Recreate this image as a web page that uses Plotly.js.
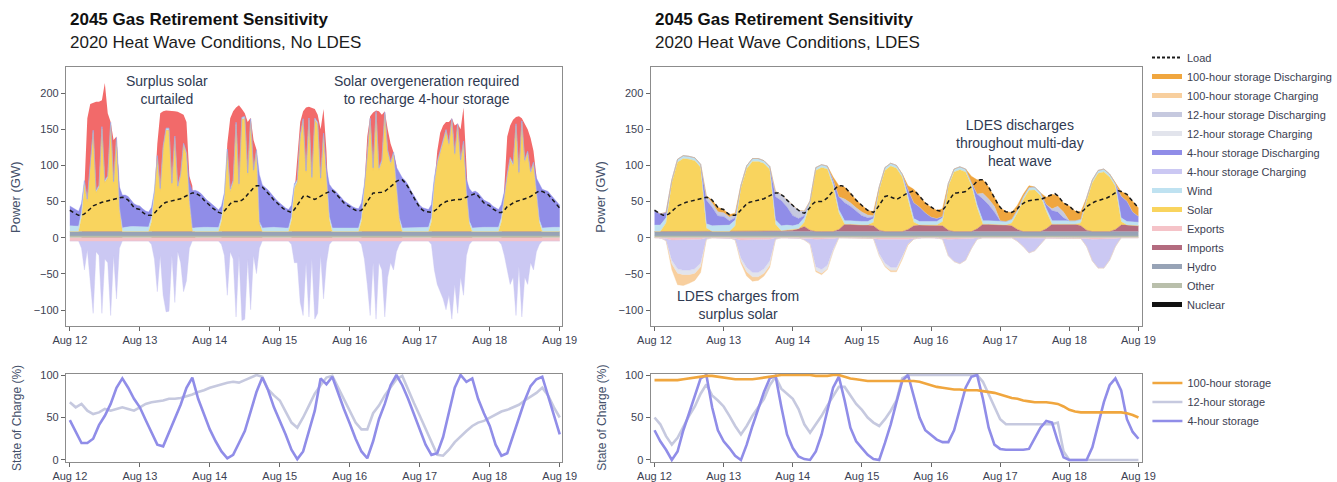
<!DOCTYPE html>
<html><head><meta charset="utf-8">
<script src="https://cdn.plot.ly/plotly-3.0.1.min.js"></script>
<style>html,body{margin:0;padding:0;background:#fff;}#chart{width:1337px;height:482px;}</style>
</head><body><div id="chart"></div>
<script>
// ---------------- DATA ----------------
// time base: hourly / two-hourly / daily samples starting 2020-08-12 00:00 (GW or %)
const startTime = '2020-08-12 00:00';
const dayTicks = ['Aug 12','Aug 13','Aug 14','Aug 15','Aug 16','Aug 17','Aug 18','Aug 19'];

// Load (GW), hourly, shared by both scenarios
const loadGW = [
 38,35,33,31,31,33,36,40,44,46,48,49,50,51,52,53,54,55,56,55,52,47,42,40,
 39,35,32,31,31,34,38,43,47,49,50,51,51,52,54,56,58,61,62,62,60,57,52,48,
 45,41,38,35,34,37,42,47,50,50,50,52,55,60,65,69,72,72,70,66,62,57,52,48,
 45,41,38,36,35,39,45,51,57,58,56,54,53,55,58,60,62,64,65,62,58,53,48,45,
 42,40,38,37,38,43,50,57,62,62,62,63,64,67,70,74,78,80,80,76,70,62,55,48,
 42,38,36,35,35,37,40,45,48,50,51,52,52,53,53,54,56,58,60,61,58,53,48,46,
 44,40,37,35,35,38,43,46,48,50,51,52,53,55,57,60,63,65,64,62,60,55,50,45,
 41];

// daily (constant) base layers
const otherGW = [2.5,2.5,2.5,2.5,2.5,2.5,2.5,2.5];
const hydroGW = [6,6,6,6,6,6,6,6];
const exportsNoLdes = [-4.5,-4.5,-4.5,-4.5,-4.5,-4.5,-4.5,-4.5];

// ---- No LDES scenario (hourly) ----
const solarNoLdes = [
 0,0,0,0,20,65,41,93,137,54,61,142,68,74,148,66,127,30,0,0,0,0,0,0,
 0,0,0,0,13.5,51.5,101,56,115,140,140,64,129,60,77,119,106,39,0,0,0,0,0,0,
 0,0,0,0,14.5,46.5,110,55,68,148,63,155,156,78,153,82,110,10,0,0,0,0,0,0,
 0,0,0,0,15.5,59.5,68,129,153,81,154,72,154,148,71,133,75,16.5,0,0,0,0,0,0,
 0,0,0,0,14.5,56.5,103,153,85,163,85,96,162,110,93,107,66,15,0,0,0,0,0,0,
 0,0,0,0,13.5,65.5,93,108,121,138,119,153,105,146,96,122,54,10.5,0,0,0,0,0,0,
 0,0,0,0,13.5,46.5,76,99,91,146,79,150,96,108,80,93,56,12.5,0,0,0,0,0,0,
 0];
const dis4NoLdes = [
 27.5,24.5,22.5,20.5,12,0,0,0,0,0,0,0,0,0,0,0,0,28,45.5,44.5,41.5,36.5,31.5,29.5,
 28.5,24.5,21.5,20.5,14,0,0,0,0,0,0,0,0,0,0,0,0,25,51.5,51.5,49.5,46.5,41.5,37.5,
 34.5,30.5,27.5,24.5,16,3,0,0,0,0,0,0,0,0,0,0,0,65,59.5,55.5,51.5,46.5,41.5,37.5,
 34.5,30.5,27.5,25.5,16,2,0,0,0,0,0,0,0,0,0,0,10,45,54.5,51.5,47.5,42.5,37.5,34.5,
 31.5,29.5,27.5,26.5,20,4,0,0,0,0,0,0,0,0,0,0,20,63,69.5,65.5,59.5,51.5,44.5,37.5,
 31.5,27.5,25.5,24.5,18,4,0,0,0,0,0,0,0,0,0,0,15,45,49.5,50.5,47.5,42.5,37.5,35.5,
 33.5,29.5,26.5,24.5,18,4,0,0,0,0,0,0,0,0,0,0,15,50,53.5,51.5,49.5,44.5,39.5,34.5,
 30.5];
const ch4NoLdes = [
 0,0,0,0,-10,-40,-12,-60,-100,-15,-20,-100,-25,-30,-103,-20,-80,-10,0,0,0,0,0,0,
 0,0,0,0,-5,-25,-70,-20,-75,-98,-97,-20,-85,-15,-30,-70,-55,-10,0,0,0,0,0,0,
 0,0,0,0,-5,-20,-75,-15,-25,-105,-20,-110,-108,-25,-95,-20,-45,-10,0,0,0,0,0,0,
 0,0,0,0,-5,-30,-30,-85,-103,-30,-105,-25,-108,-100,-20,-80,-30,-5,0,0,0,0,0,0,
 0,0,0,0,-5,-25,-60,-103,-30,-108,-30,-40,-105,-50,-30,-40,-15,-5,0,0,0,0,0,0,
 0,0,0,0,-5,-40,-60,-70,-80,-95,-75,-108,-60,-100,-50,-75,-20,-5,0,0,0,0,0,0,
 0,0,0,0,-5,-20,-40,-60,-50,-103,-35,-105,-50,-60,-30,-40,-15,-5,0,0,0,0,0,0,
 0];
// upper edge of the curtailed-solar area (GW)
const curtailTopNoLdes = [
 0,0,0,0,0,70,165,185,187,188,188,190,214,172,160,135,140,60,0,0,0,0,0,0,
 0,0,0,0,0,60,130,172,175,176,176,175,175,174,172,170,160,85,72,0,0,0,0,0,
 0,0,0,0,0,50,130,165,175,180,183,178,172,160,166,135,122,40,0,0,0,0,0,0,
 0,0,0,0,0,60,110,160,175,180,181,180,178,170,150,178,120,20,0,0,0,0,0,0,
 0,0,0,0,0,70,140,168,173,176,175,170,175,150,130,118,100,30,0,0,0,0,0,0,
 0,0,0,0,0,75,120,145,155,160,160,165,155,158,150,180,100,20,0,0,0,0,0,0,
 0,0,0,0,0,70,140,155,163,167,168,165,158,150,138,120,85,20,0,0,0,0,0,0,
 0];
// two-hourly
const windNoLdes = [
 8,8,7,4,3,3,3,3,3,5,7,7, 7,7,6,4,3,3,3,3,3,5,6,6, 6,6,5,4,3,3,3,3,3,5,6,6,
 5,5,5,4,3,3,3,3,3,5,5,5, 5,5,5,4,3,3,3,3,3,5,5,5, 5,6,6,4,3,3,3,3,3,5,6,6,
 6,6,6,4,3,3,3,3,3,5,6,6, 6];

// ---- LDES scenario (two-hourly) ----
const importsLdes = [
 0,0,0,0,0,0,0,0,0,0,0,0, 0,0,0,0,0,0,0,0,0,0,1,2, 2,4,7,2,0,0,0,0,3,10,10,9,
 9,9,8,2,0,0,0,0,3,8,9,9, 9,9,8,2,0,0,0,0,4,10,10,10, 9,9,8,3,0,0,0,0,4,10,10,10,
 10,10,8,2,0,0,0,0,3,9,9,8, 8];
const windLdes = [
 9,9,7,4,4,4,4,4,4,6,8,8, 9,9,8,4,4,4,4,4,4,6,7,7, 6,6,6,4,4,4,4,4,4,5,5,5,
 5,5,5,4,4,4,4,4,4,5,5,5, 5,5,5,4,4,4,4,4,4,5,5,5, 5,5,5,4,4,4,4,4,4,5,5,5,
 5,5,5,4,4,4,4,4,4,5,5,5, 5];
const solarLdes = [
 0,0,12,67,96,101,100,98,89,5,0,0, 0,0,8,60,87,97,97,94,86,10,0,0,
 0,0,6,36.5,84.5,88.5,86.5,63,23,0,0,0, 0,0,5,55.5,84.5,90.5,87.5,75.5,43,5,0,0,
 0,0,6,60.5,82.5,85.5,82.5,64,29,0,0,0, 0,0,4,23,44,57,57.5,49.5,24,0,0,0,
 0,0,4,40.5,67.5,80.5,82.5,75.5,59.5,5,0,0, 0];
const dis4Ldes = [
 20.5,15.5,7.5,0,0,0,0,0,0,32.5,25.5,13.5, 12,6,3,0,0,0,0,0,0,32,35,25,
 14,8,3,0,0,0,0,4.5,18,25,20,14, 8,5,2,0,0,0,0,0,8,22,20,12,
 6,4,2,0,0,0,0,0,15,30,22,12, 1,0,0,0,0,0,0,0,5.5,14,12,4,
 0,0,0,0,0,0,0,0,0,30,28,14, 8];
const dis12Ldes = [
 0,0,0,0,0,0,0,0,0,6,6,6, 5,5,4,0,0,0,0,0,0,7.5,8.5,9.5,
 14.5,11.5,6.5,0,0,0,0,0,0,5,5,5, 5,4,2,0,0,0,0,0,0,0,0,0,
 0,0,0,0,0,0,0,0,0,8,8,8, 0,0,0,0,0,0,0,0,0,2.5,8,8,
 0,0,0,0,0,0,0,0,0,0,0,0, 0];
const dis100Ldes = [
 0,0,0,0,0,0,0,0,0,0,4,6, 4.5,3.5,2.5,0,0,0,0,0,0,0,0,0,
 0,0,0,0,0,0,0,4,15.5,16.5,13.5,10.5, 9.5,6.5,5.5,0,0,0,0,0,5.5,18.5,15.5,13.5,
 13.5,11.5,10.5,0,0,0,0,8.5,19.5,18.5,16.5,11.5, 18.5,13.5,9.5,6.5,3.5,2.5,0,0,10,20,14.5,12.5,
 20.5,13.5,10.5,0,0,0,0,0,0,6.5,9.5,14.5, 11.5];
const exportsLdes = [
 0,0,-1,-3,-3,-3,-3,-3,-2,0,0,0, 0,0,-1,-3,-3,-3,-3,-3,-2,0,0,0,
 0,0,-1,-1,-2,-2,-2,-1,0,0,0,0, 0,0,-1,-2,-2,-3,-3,-3,-2,-1,0,0,
 0,0,-1,-2,-2,-2,-2,-1,0,0,0,0, 0,0,0,-1,-1,-1,-1,-1,0,0,0,0,
 0,0,-1,-1,-2,-2,-2,-1,-1,0,0,0, 0];
const ch4Ldes = [
 0,0,-3,-28,-40,-42,-42,-40,-33,-2,0,0, 0,0,-2,-25,-38,-45,-45,-40,-30,-2,0,0,
 0,0,-2,-7,-38,-42,-36,-15,0,0,0,0, 0,0,0,-20,-33,-38,-38,-23,-7,-1,0,0,
 0,0,-1,-23,-31,-34,-29,-14,-2,0,0,0, 0,0,0,-4,-11,-20,-17,-8,0,0,0,0,
 0,0,0,-11,-30,-40,-40,-30,-11,0,0,0, 0];
const ch12Ldes = [
 0,0,0,-5,-6,-6,-6,-6,-5,0,0,0, 0,0,0,-4,-6,-6,-6,-6,-6,0,0,0,
 0,0,0,-1,-5,-5,-5,-3,0,0,0,0, 0,0,0,-3,-4,-4,-4,-2,0,0,0,0,
 0,0,0,0,0,0,0,0,0,0,0,0, 0,0,0,0,0,0,0,0,0,0,0,0,
 0,0,0,0,0,0,0,0,0,0,0,0, 0];
const ch100Ldes = [
 0,0,0,-8,-16,-15,-12,-10,-8,0,0,0, 0,0,0,-3,-6,-6,-5,-4,-3,0,0,0,
 0,0,0,0,-2,-2,-1,0,0,0,0,0, 0,0,0,0,-1,-2,-2,-2,-1,0,0,0,
 0,0,0,0,0,0,0,0,0,0,0,0, 0,0,0,0,0,0,0,0,0,0,0,0,
 0,0,0,0,0,0,0,0,0,0,0,0, 0];

// ---- State of charge (%), two-hourly ----
const soc4NoLdes = [
 47,33,20,20,25,41,52,66,85,96,85,72, 62,47,32,18,16,32,47,65,85,97,72,53,
 36,22,10,2,6,20,34,57,80,97,82,62, 47,30,12,1,10,33,58,96,89,98,78,60,
 43,25,10,2,22,48,66,88,100,88,72,54, 36,18,6,8,27,58,85,100,92,96,72,55,
 40,18,5,8,28,48,70,87,95,98,75,55, 30];
const soc12NoLdes = [
 68,62,66,58,54,56,60,58,60,62,60,58, 62,66,68,69,70,72,72,73,75,77,80,82,
 85,87,89,91,92,91,94,97,100,98,83,76, 70,57,44,38,50,64,78,88,97,99,85,72,
 58,44,36,36,55,64,76,86,95,99,82,67, 52,37,22,6,5,12,21,28,34,40,44,46,
 50,54,57,59,62,65,70,74,79,85,76,62, 50];
const soc100Ldes = [
 94,94,94,94,94,95,96,97,98,99,99,98, 97,96,95,95,95,95,96,97,98,99,100,100,
 100,100,100,100,99,99,99,100,100,98,96,95, 94,93,93,93,93,93,93,93,93,93,92,90,
 88,86,85,84,83,83,82,82,82,81,80,79, 77,75,73,72,70,69,68,68,68,67,66,63,
 59,57,56,56,56,56,56,56,56,56,55,53, 50];
const soc12Ldes = [
 50,42,28,18,26,40,52,63,78,89,76,70, 63,52,40,30,40,52,62,72,88,98,84,78,
 72,60,42,32,42,52,64,75,86,86,76,66, 59,50,44,40,48,58,70,96,100,100,100,100,
 100,100,100,100,100,100,100,100,100,92,78,62, 48,42,42,42,42,42,42,42,42,42,44,10,
 0,0,0,0,0,0,0,0,0,0,0,0, 0];
const soc4Ldes = [
 35,22,12,0,10,35,55,77,96,100,62,35, 22,14,5,0,18,40,60,80,96,99,63,30,
 14,4,1,0,10,30,58,85,98,70,38,22, 14,6,1,0,20,42,68,93,100,75,50,35,
 29,24,21,21,35,60,85,98,100,72,38,18, 13,12,12,12,12,13,25,38,46,44,22,3,
 0,0,0,0,15,42,68,88,96,82,48,33, 25];

const powerTicks = [-100,-50,0,50,100,150,200];
const socTicks = [0,50,100];
const legendNames = ['Load','100-hour storage Discharging','100-hour storage Charging',
 '12-hour storage Discharging','12-hour storage Charging','4-hour storage Discharging',
 '4-hour storage Charging','Wind','Solar','Exports','Imports','Hydro','Other','Nuclear'];

// ---------------- STYLE ----------------
const COL = {
  load:'#1a1a1a', dis100:'#f0a63e', ch100:'#f8cf9e', dis12:'#c6c9df', ch12:'#e2e4ec',
  dis4:'#908de8', ch4:'#cbc8f3', wind:'#bfe2f1', solar:'#f9d45e', exports:'#f5c3c8',
  imports:'#b36b7f', hydro:'#97a3b6', other:'#b9bfab', nuclear:'#111111', curtail:'#f26a6a'
};
const FONT = 'Liberation Sans, Arial, Helvetica, sans-serif';
const H1 = 3600000, H2 = 7200000, D1 = 86400000;

function area(name, y, color, group, xa, ya, dx) {
  return {type:'scatter', mode:'lines', name:name, x0:startTime, dx:dx, y:y,
    stackgroup:group, stackgaps:'interpolate',
    line:{width:0.4, color:color}, fillcolor:color,
    xaxis:xa, yaxis:ya, showlegend:false, hoverinfo:'skip'};
}
function loadLine(xa, ya) {
  return {type:'scatter', mode:'lines', name:'Load', x0:startTime, dx:H1, y:loadGW,
    line:{color:COL.load, width:1.5, dash:'4px,3px'}, xaxis:xa, yaxis:ya, showlegend:false, hoverinfo:'skip'};
}

const traces = [];
// ---- top-left: No LDES ----
traces.push({type:'scatter', mode:'lines', name:'Curtailed', x0:startTime, dx:H1, y:curtailTopNoLdes,
  fill:'tozeroy', fillcolor:COL.curtail, line:{width:0, color:COL.curtail}, xaxis:'x', yaxis:'y', showlegend:false, hoverinfo:'skip'});
traces.push(area('Other', otherGW, COL.other, 'posL', 'x', 'y', D1));
traces.push(area('Hydro', hydroGW, COL.hydro, 'posL', 'x', 'y', D1));
traces.push(area('Solar', solarNoLdes, COL.solar, 'posL', 'x', 'y', H1));
traces.push(area('Wind', windNoLdes, COL.wind, 'posL', 'x', 'y', H2));
traces.push(area('4-hour storage Discharging', dis4NoLdes, COL.dis4, 'posL', 'x', 'y', H1));
traces.push(area('Exports', exportsNoLdes, COL.exports, 'negL', 'x', 'y', D1));
traces.push(area('4-hour storage Charging', ch4NoLdes, COL.ch4, 'negL', 'x', 'y', H1));
traces.push(loadLine('x', 'y'));

// ---- top-right: LDES ----
traces.push(area('Other', otherGW, COL.other, 'posR', 'x2', 'y2', D1));
traces.push(area('Hydro', hydroGW, COL.hydro, 'posR', 'x2', 'y2', D1));
traces.push(area('Imports', importsLdes, COL.imports, 'posR', 'x2', 'y2', H2));
traces.push(area('Solar', solarLdes, COL.solar, 'posR', 'x2', 'y2', H2));
traces.push(area('Wind', windLdes, COL.wind, 'posR', 'x2', 'y2', H2));
traces.push(area('4-hour storage Discharging', dis4Ldes, COL.dis4, 'posR', 'x2', 'y2', H2));
traces.push(area('12-hour storage Discharging', dis12Ldes, COL.dis12, 'posR', 'x2', 'y2', H2));
traces.push(area('100-hour storage Discharging', dis100Ldes, COL.dis100, 'posR', 'x2', 'y2', H2));
traces.push(area('Exports', exportsLdes, COL.exports, 'negR', 'x2', 'y2', H2));
traces.push(area('4-hour storage Charging', ch4Ldes, COL.ch4, 'negR', 'x2', 'y2', H2));
traces.push(area('12-hour storage Charging', ch12Ldes, COL.ch12, 'negR', 'x2', 'y2', H2));
traces.push(area('100-hour storage Charging', ch100Ldes, COL.ch100, 'negR', 'x2', 'y2', H2));
traces.push(loadLine('x2', 'y2'));

// legend entries for the LDES panel
const legendColors = [COL.load, COL.dis100, COL.ch100, COL.dis12, COL.ch12, COL.dis4, COL.ch4,
  COL.wind, COL.solar, COL.exports, COL.imports, COL.hydro, COL.other, COL.nuclear];
legendNames.forEach(function(nm, i) {
  traces.push({type:'scatter', mode:'lines', name:nm, x:[null], y:[null], xaxis:'x2', yaxis:'y2',
    line: i === 0 ? {color:legendColors[i], width:1.8, dash:'3px,2px'} : {color:legendColors[i], width:5},
    showlegend:true, legend:'legend', hoverinfo:'skip'});
});

// ---- bottom: state of charge ----
function socLine(name, y, color, xa, ya, show, rank) {
  return {type:'scatter', mode:'lines', name:name, x0:startTime, dx:H2, y:y,
    line:{color:color, width:2.6}, xaxis:xa, yaxis:ya, showlegend:show, legend:'legend2',
    legendrank:rank, hoverinfo:'skip'};
}
traces.push(socLine('12-hour storage', soc12NoLdes, COL.dis12, 'x3', 'y3', false, 2));
traces.push(socLine('4-hour storage', soc4NoLdes, COL.dis4, 'x3', 'y3', false, 3));
traces.push(socLine('12-hour storage', soc12Ldes, COL.dis12, 'x4', 'y4', true, 2));
traces.push(socLine('4-hour storage', soc4Ldes, COL.dis4, 'x4', 'y4', true, 3));
traces.push(socLine('100-hour storage', soc100Ldes, COL.dis100, 'x4', 'y4', true, 1));

// ---------------- LAYOUT ----------------
const W = 1337, Hh = 482;
const px = v => v / W, py = v => 1 - v / Hh;
const tickFont = {family:FONT, size:11, color:'#3c4152'};
function xAxis(l, r, range, anchor) {
  return {type:'date', domain:[px(l), px(r)], range:range, anchor:anchor,
    tickmode:'array', tickvals:['2020-08-12','2020-08-13','2020-08-14','2020-08-15','2020-08-16','2020-08-17','2020-08-18','2020-08-19'],
    ticktext:dayTicks, ticks:'outside', ticklen:4, tickwidth:1, tickcolor:'#666',
    showline:true, mirror:true, linecolor:'#8c8c8c', linewidth:1, showgrid:false, zeroline:false,
    tickfont:tickFont, fixedrange:true};
}
function yAxis(t, b, range, anchor, vals) {
  return {domain:[py(b), py(t)], range:range, anchor:anchor, tickmode:'array', tickvals:vals,
    ticks:'outside', ticklen:4, tickwidth:1, tickcolor:'#666',
    showline:true, mirror:true, linecolor:'#8c8c8c', linewidth:1, showgrid:false, zeroline:false,
    tickfont:tickFont, fixedrange:true};
}
const txtCol = '#2f3a52';
function ann(text, x, y, size, opts) {
  return Object.assign({text:text, x:px(x), y:py(y), xref:'paper', yref:'paper', showarrow:false,
    font:{family:FONT, size:size, color:txtCol}, xanchor:'center', yanchor:'middle', align:'center'}, opts || {});
}

const layout = {
  width:W, height:Hh, autosize:false, margin:{l:0, r:0, t:0, b:0},
  paper_bgcolor:'#ffffff', plot_bgcolor:'#ffffff', hovermode:false,
  font:{family:FONT, size:11, color:'#3c4152'},
  xaxis: xAxis(66, 563, ['2020-08-11 22:38', '2020-08-19 00:41'], 'y'),
  yaxis: yAxis(67, 326, [-122, 236], 'x', powerTicks),
  xaxis2: xAxis(652, 1145, ['2020-08-11 22:37', '2020-08-19 01:23'], 'y2'),
  yaxis2: yAxis(67, 326, [-122, 236], 'x2', powerTicks),
  xaxis3: xAxis(66, 563, ['2020-08-11 22:38', '2020-08-19 00:41'], 'y3'),
  yaxis3: yAxis(374, 462, [-2.4, 101.2], 'x3', socTicks),
  xaxis4: xAxis(652, 1145, ['2020-08-11 22:37', '2020-08-19 01:23'], 'y4'),
  yaxis4: yAxis(374, 462, [-2.4, 101.2], 'x4', socTicks),
  legend: {x:px(1150), y:py(181), xanchor:'left', yanchor:'middle', traceorder:'normal',
    bgcolor:'rgba(0,0,0,0)', font:{family:FONT, size:11, color:'#3c4152'}},
  legend2: {x:px(1150), y:py(402), xanchor:'left', yanchor:'middle', traceorder:'normal',
    bgcolor:'rgba(0,0,0,0)', font:{family:FONT, size:11, color:'#3c4152'}},
  annotations: [
    ann('<b>2045 Gas Retirement Sensitivity</b>', 68, 19.5, 17, {xanchor:'left', font:{family:FONT, size:17, color:'#111'}}),
    ann('2020 Heat Wave Conditions, No LDES', 68, 42.5, 17, {xanchor:'left', font:{family:FONT, size:17, color:'#1c1c1c'}}),
    ann('<b>2045 Gas Retirement Sensitivity</b>', 654, 19.5, 17, {xanchor:'left', font:{family:FONT, size:17, color:'#111'}}),
    ann('2020 Heat Wave Conditions, LDES', 654, 42.5, 17, {xanchor:'left', font:{family:FONT, size:17, color:'#1c1c1c'}}),
    ann('Power (GW)', 15, 197, 13, {textangle:-90, font:{family:FONT, size:13, color:'#44506a'}}),
    ann('Power (GW)', 601, 197, 13, {textangle:-90, font:{family:FONT, size:13, color:'#44506a'}}),
    ann('State of Charge (%)', 17, 418, 12, {textangle:-90, font:{family:FONT, size:12, color:'#44506a'}}),
    ann('State of Charge (%)', 603, 418, 12, {textangle:-90, font:{family:FONT, size:12, color:'#44506a'}}),
    ann('Surplus solar<br>curtailed', 167, 90, 14),
    ann('Solar overgeneration required<br>to recharge 4-hour storage', 427, 90, 14),
    ann('LDES discharges<br>throughout multi-day<br>heat wave', 1022, 143, 14),
    ann('LDES charges from<br>surplus solar', 740, 305, 14)
  ]
};

Plotly.newPlot('chart', traces, layout, {displayModeBar:false, staticPlot:true});
</script></body></html>
